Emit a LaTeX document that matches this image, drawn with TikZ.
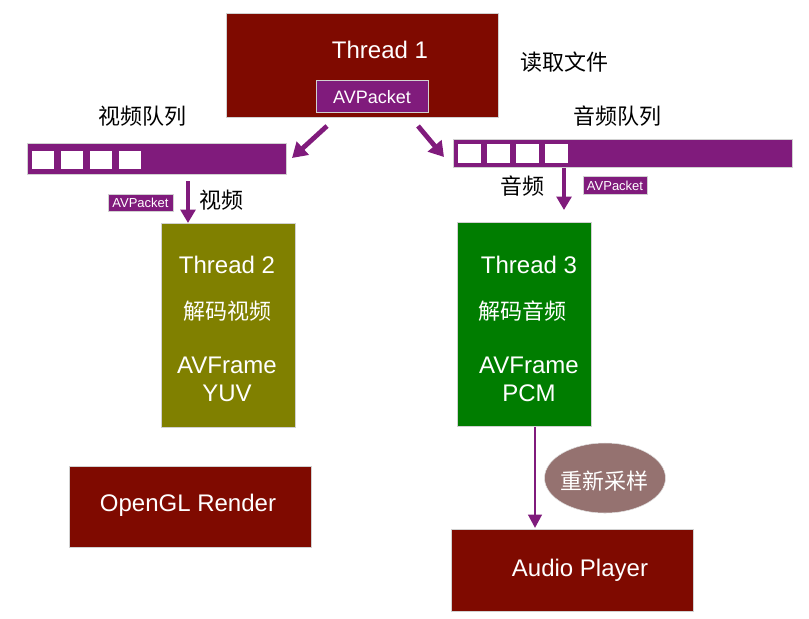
\documentclass[tikz,border=0pt]{standalone}
\usepackage{fontspec}
\setmainfont{Liberation Sans}
\newfontfamily\cjk{Noto Sans CJK SC}
\usetikzlibrary{arrows.meta,shapes.geometric}
\definecolor{maroon}{RGB}{127,10,0}
\definecolor{qpurple}{RGB}{128,27,124}
\definecolor{olivebox}{RGB}{128,128,0}
\definecolor{greenbox}{RGB}{0,125,0}
\definecolor{ellc}{RGB}{149,114,112}
\begin{document}
\begin{tikzpicture}[x=0.75pt,y=-0.75pt,
  box/.style={draw=black!18, line width=0.5pt, inner sep=0pt, rectangle},
  sq/.style={fill=white, draw=none, inner sep=0pt, rectangle},
  big/.style={text=white, inner sep=0pt, font=\fontsize{18}{20}\selectfont},
  mid/.style={text=white, inner sep=0pt, font=\fontsize{13.5}{15}\selectfont},
  small/.style={text=white, inner sep=0pt, font=\fontsize{9.75}{11}\selectfont},
  zh/.style={inner sep=0pt, font=\cjk\fontsize{16.5}{18}\selectfont},
  zhw/.style={zh, text=white},
  arr/.style={draw=qpurple, line width=3pt, -{Triangle[width=11pt,length=10pt]}},
  darr/.style={draw=qpurple, line width=3.6pt, -{Triangle[width=13pt,length=11pt]}},
  aarr/.style={draw=qpurple, line width=2.2pt, -{Triangle[width=10pt,length=10pt]}}
]
\useasboundingbox (0,0) rectangle (809,618);

% Thread 1
\node[box, fill=maroon, minimum width=204pt, minimum height=78pt] (t1) at (362,65) {};
\node[big] (t1t) at (380,50) {Thread 1};
\node[box, fill=qpurple, minimum width=84pt, minimum height=24pt] (t1p) at (372,96) {};
\node[mid] (t1pt) at (372,97) {AVPacket};
\node[zh] (read) at (564,62) {读取文件};

% queues
\node[zh] (vql) at (142,116) {视频队列};
\node[zh] (aql) at (617,116) {音频队列};
\node[box, fill=qpurple, minimum width=194.25pt, minimum height=23.25pt] (vq) at (156.5,158.5) {};
\foreach \x [count=\i] in {43,72,101,130}
  \node[sq, minimum width=16.5pt, minimum height=13.5pt] (vs\i) at (\x,160) {};
\node[box, fill=qpurple, minimum width=254.25pt, minimum height=21pt] (aq) at (622.5,153) {};
\foreach \x [count=\i] in {469.5,498.5,527.5,556.5}
  \node[sq, minimum width=17.25pt, minimum height=14.25pt] (as\i) at (\x,153.5) {};

% arrows from thread 1
\coordinate (d1s) at (327,126);
\coordinate (d1e) at (292,158);
\coordinate (d2s) at (418,126);
\coordinate (d2e) at (444,157);
\draw[darr] (d1s) -- (d1e);
\draw[darr] (d2s) -- (d2e);

% vertical arrows from queues
\coordinate (v1s) at (188,181);
\coordinate (v1e) at (188,223);
\coordinate (v2s) at (564,168);
\coordinate (v2e) at (564,210);
\draw[arr] (v1s) -- (v1e);
\draw[arr] (v2s) -- (v2e);

\node[box, fill=qpurple, minimum width=48.75pt, minimum height=12.75pt] (vp) at (140.5,202.5) {};
\node[small] (vpt) at (140.5,203) {AVPacket};
\node[zh] (vl) at (221,200) {视频};
\node[box, fill=qpurple, minimum width=48pt, minimum height=13.5pt] (ap) at (615,185) {};
\node[small] (apt) at (615,185.5) {AVPacket};
\node[zh] (al) at (522,186) {音频};

% Thread 2
\node[box, fill=olivebox, minimum width=100.5pt, minimum height=153pt] (t2) at (228,325) {};
\node[big] (t2a) at (227,265) {Thread 2};
\node[zhw] (t2b) at (227,311) {解码视频};
\node[big] (t2c) at (227,365) {AVFrame};
\node[big] (t2d) at (227,393) {YUV};

% Thread 3
\node[box, fill=greenbox, minimum width=100.5pt, minimum height=153pt] (t3) at (524,324) {};
\node[big] (t3a) at (529,265) {Thread 3};
\node[zhw] (t3b) at (522,311) {解码音频};
\node[big] (t3c) at (529,365) {AVFrame};
\node[big] (t3d) at (529,393) {PCM};

% bottom
\node[box, fill=maroon, minimum width=181.5pt, minimum height=60.75pt] (gl) at (190,506.5) {};
\node[big] (glt) at (188,505) {OpenGL Render};
\node[box, fill=maroon, minimum width=181.5pt, minimum height=61.5pt] (ap2) at (572,570) {};
\node[big] (apt2) at (580,570) {Audio Player};

\coordinate (a3s) at (535,427);
\coordinate (a3e) at (535,528);
\draw[aarr] (a3s) -- (a3e);

\node[ellipse, fill=ellc, draw=black!12, line width=0.4pt, minimum width=90.75pt, minimum height=52.5pt, inner sep=0pt] (rs) at (605,478) {};
\node[zhw] (rst) at (604,481) {重新采样};
\end{tikzpicture}
\end{document}
